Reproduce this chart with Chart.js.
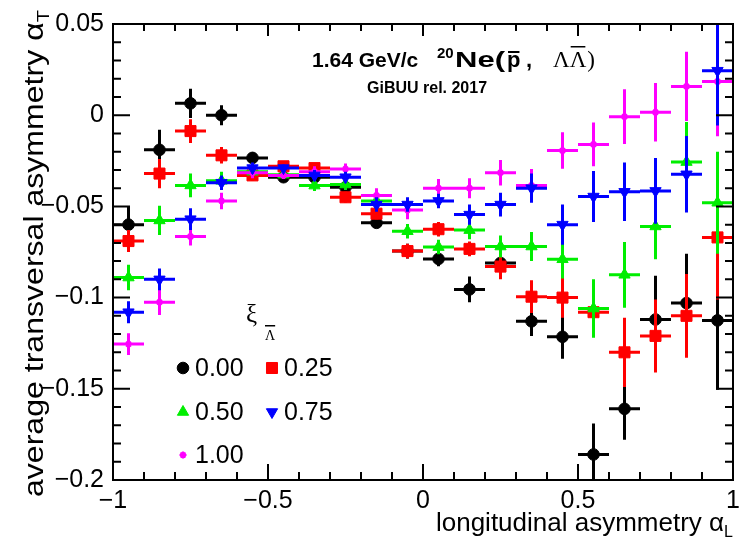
<!DOCTYPE html>
<html>
<head>
<meta charset="utf-8">
<script src="https://cdn.jsdelivr.net/npm/chart.js@4.4.1/dist/chart.umd.min.js"></script>
<style>
  html, body { margin: 0; padding: 0; background: #fff; }
  #c { display: block; }
</style>
</head>
<body>
<canvas id="c" width="749" height="549" style="width:749px;height:549px"></canvas>
<script>
// ---------------- data ----------------
const xCenters = [-0.95, -0.85, -0.75, -0.65, -0.55, -0.45, -0.35, -0.25, -0.15, -0.05,
                   0.05,  0.15,  0.25,  0.35,  0.45,  0.55,  0.65,  0.75,  0.85,  0.95];
const binHalfWidth = 0.05;

const seriesLabels = ['0.00', '0.25', '0.50', '0.75', '1.00'];

const xi000 = [-0.060, -0.019, 0.0065, 0.000, -0.0234, -0.034, -0.034, -0.0395, -0.059, -0.0745,
               -0.0788, -0.0955, -0.081, -0.113, -0.1215, -0.186, -0.161, -0.112, -0.103, -0.1125];
const xi000Err = [0.010, 0.011, 0.008, 0.0055, 0.003, 0.002, 0.002, 0.003, 0.003, 0.004,
                  0.004, 0.007, 0.006, 0.008, 0.012, 0.017, 0.017, 0.024, 0.027, 0.038];

const xi025 = [-0.069, -0.032, -0.0087, -0.022, -0.033, -0.028, -0.029, -0.045, -0.054, -0.0745,
               -0.0625, -0.0733, -0.083, -0.0995, -0.100, -0.108, -0.130, -0.121, -0.110, -0.067];
const xi025Err = [0.006, 0.008, 0.0065, 0.0045, 0.003, 0.002, 0.002, 0.003, 0.003, 0.004,
                  0.004, 0.004, 0.007, 0.009, 0.011, 0.011, 0.019, 0.020, 0.023, 0.034];

const xi050 = [-0.089, -0.0577, -0.0385, -0.036, -0.031, -0.0326, -0.0386, -0.038, -0.047, -0.0636,
               -0.0723, -0.063, -0.072, -0.072, -0.079, -0.106, -0.0875, -0.061, -0.0257, -0.048];
const xi050Err = [0.007, 0.008, 0.0065, 0.005, 0.003, 0.002, 0.003, 0.003, 0.004, 0.004,
                  0.004, 0.005, 0.006, 0.008, 0.0105, 0.016, 0.018, 0.018, 0.022, 0.028];

const xi075 = [-0.108, -0.090, -0.057, -0.037, -0.029, -0.029, -0.033, -0.034, -0.049, -0.049,
               -0.047, -0.0545, -0.049, -0.040, -0.060, -0.0446, -0.042, -0.0415, -0.0324, 0.0244];
const xi075Err = [0.006, 0.006, 0.006, 0.004, 0.003, 0.002, 0.003, 0.003, 0.004, 0.004,
                  0.004, 0.0055, 0.0065, 0.008, 0.011, 0.014, 0.016, 0.018, 0.021, 0.030];

const xi100 = [-0.1255, -0.1025, -0.0665, -0.047, -0.0315, -0.033, -0.031, -0.0295, -0.044, -0.052,
               -0.040, -0.040, -0.0315, -0.0385, -0.0194, -0.016, -0.0008, 0.0016, 0.0158, 0.0185];
const xi100Err = [0.006, 0.007, 0.005, 0.0045, 0.003, 0.002, 0.003, 0.003, 0.004, 0.005,
                  0.005, 0.0055, 0.007, 0.009, 0.010, 0.012, 0.015, 0.016, 0.019, 0.030];

const xTickValues = [-1, -0.5, 0, 0.5, 1];
const xTickLabels = ['\u22121', '\u22120.5', '0', '0.5', '1'];
const yTickValues = [-0.2, -0.15, -0.1, -0.05, 0, 0.05];
const yTickLabels = ['\u22120.2', '\u22120.15', '\u22120.1', '\u22120.05', '0', '0.05'];

// ---------------- styles ----------------
const styles = [
  { color: '#000000', pointStyle: 'circle',   radius: 5.8, rotation: 0,   order: 5 },
  { color: '#ff0000', pointStyle: 'rect',     radius: 7.8, rotation: 0,   order: 4 },
  { color: '#00ee00', pointStyle: 'triangle', radius: 6.5, rotation: 0,   order: 3 },
  { color: '#0000ff', pointStyle: 'triangle', radius: 6.5, rotation: 180, order: 1 },
  { color: '#ff00ff', pointStyle: 'star',     radius: 3.5, rotation: 0,   order: 2 }
];
const allVals = [xi000, xi025, xi050, xi075, xi100];
const allErrs = [xi000Err, xi025Err, xi050Err, xi075Err, xi100Err];

const datasets = allVals.map((vals, k) => ({
  label: seriesLabels[k],
  data: xCenters.map((x, i) => ({ x: x, y: vals[i] })),
  errs: allErrs[k],
  backgroundColor: styles[k].color,
  borderColor: styles[k].color,
  pointStyle: styles[k].pointStyle,
  pointRadius: styles[k].radius,
  pointRotation: styles[k].rotation,
  pointBorderWidth: styles[k].pointStyle === 'star' ? 2 : 1,
  pointHoverRadius: styles[k].radius,
  order: styles[k].order,
  showLine: false
}));

const FONT = '"Liberation Sans", Arial, Helvetica, sans-serif';
const SERIF = '"Liberation Serif", "DejaVu Serif", serif';

// ---------------- plugins ----------------
const whiteBg = {
  id: 'whiteBg',
  beforeDraw(chart) {
    const ctx = chart.ctx;
    ctx.save();
    ctx.fillStyle = '#fff';
    ctx.fillRect(0, 0, chart.width, chart.height);
    ctx.restore();
  }
};

const errorBars = {
  id: 'errorBars',
  beforeDatasetDraw(chart, args) {
    const ds = chart.data.datasets[args.index];
    const { ctx, chartArea: a } = chart;
    const xs = chart.scales.x, ys = chart.scales.y;
    ctx.save();
    ctx.beginPath();
    ctx.rect(a.left, a.top, a.right - a.left, a.bottom - a.top);
    ctx.clip();
    ctx.strokeStyle = ds.borderColor;
    ctx.lineWidth = 3;
    ctx.lineCap = 'butt';
    ds.data.forEach((p, i) => {
      const e = ds.errs[i];
      const px = xs.getPixelForValue(p.x), py = ys.getPixelForValue(p.y);
      const x0 = xs.getPixelForValue(p.x - binHalfWidth), x1 = xs.getPixelForValue(p.x + binHalfWidth);
      const y0 = ys.getPixelForValue(p.y - e), y1 = ys.getPixelForValue(p.y + e);
      ctx.beginPath();
      ctx.moveTo(x0, py); ctx.lineTo(x1, py);
      ctx.moveTo(px, y0); ctx.lineTo(px, y1);
      ctx.stroke();
    });
    ctx.restore();
  }
};

function drawMarker(ctx, st, x, y) {
  ctx.save();
  ctx.fillStyle = st.color;
  ctx.strokeStyle = st.color;
  ctx.lineWidth = st.pointStyle === 'star' ? 2 : 1;
  Chart.helpers.drawPoint(ctx, {
    pointStyle: st.pointStyle, radius: st.radius, rotation: st.rotation,
    borderWidth: st.pointStyle === 'star' ? 2 : 1
  }, x, y);
  ctx.restore();
}

const frameAndText = {
  id: 'frameAndText',
  afterDraw(chart) {
    const { ctx, chartArea: a } = chart;
    const xs = chart.scales.x, ys = chart.scales.y;
    ctx.save();
    // frame
    ctx.strokeStyle = '#000';
    ctx.lineWidth = 2;
    ctx.strokeRect(a.left, a.top, a.right - a.left, a.bottom - a.top);
    // x ticks (major every 0.5, minor every 0.1)
    ctx.beginPath();
    for (let k = -10; k <= 10; k++) {
      const v = k / 10;
      const px = xs.getPixelForValue(v);
      const major = (k % 5 === 0);
      const lb = major ? 16 : 8, lt = major ? 12 : 7;
      ctx.moveTo(px, a.bottom); ctx.lineTo(px, a.bottom - lb);
      ctx.moveTo(px, a.top); ctx.lineTo(px, a.top + lt);
    }
    // y ticks (major every 0.05, minor every 0.01)
    for (let k = -20; k <= 5; k++) {
      const v = k / 100;
      const py = ys.getPixelForValue(v);
      const major = (k % 5 === 0);
      const l = major ? 17 : 8;
      ctx.moveTo(a.left, py); ctx.lineTo(a.left + l, py);
      ctx.moveTo(a.right, py); ctx.lineTo(a.right - l, py);
    }
    ctx.stroke();

    ctx.fillStyle = '#000';
    ctx.textAlign = 'left';
    ctx.textBaseline = 'alphabetic';

    // x axis title, right aligned to the frame
    {
      ctx.font = '26px ' + FONT;
      const main = 'longitudinal asymmetry \u03b1';
      const mw = ctx.measureText(main).width;
      ctx.font = '16px ' + FONT;
      const sw = ctx.measureText('L').width;
      const base = 531;
      const x0 = a.right - mw - sw;
      ctx.font = '26px ' + FONT;
      ctx.fillText(main, x0, base);
      ctx.font = '16px ' + FONT;
      ctx.fillText('L', x0 + mw, base + 6);
    }
    // y axis title, rotated, top aligned
    {
      ctx.save();
      ctx.translate(43, 497);
      ctx.rotate(-Math.PI / 2);
      ctx.font = '27px ' + FONT;
      const main = 'average transversal asymmetry \u03b1';
      const mw = ctx.measureText(main).width;
      ctx.font = '17px ' + FONT;
      const sw = ctx.measureText('T').width;
      const s = 487 / (mw + sw);
      ctx.scale(s, 1);
      ctx.font = '27px ' + FONT;
      ctx.fillText(main, 0, 0);
      ctx.font = '17px ' + FONT;
      ctx.fillText('T', mw, 6);
      ctx.restore();
    }

    // title
    {
      const base = 67;
      ctx.font = 'bold 21px ' + FONT;
      ctx.fillText('1.64 GeV/c', 312, base);
      ctx.font = 'bold 15px ' + FONT;
      ctx.fillText('20', 437, base - 9);
      ctx.font = 'bold 22px ' + FONT;
      const neW = ctx.measureText('Ne(').width;
      ctx.save();
      ctx.translate(455, base);
      ctx.scale(50 / neW, 1);
      ctx.fillText('Ne(', 0, 0);
      ctx.restore();
      const pw = ctx.measureText('p').width;
      ctx.fillText('p', 507, base);
      ctx.fillRect(508, base - 16, pw - 2, 2);
      ctx.fillText(',', 526, base);
      ctx.font = '23px ' + SERIF;
      const lw = ctx.measureText('\u039b').width;
      ctx.fillText('\u039b', 553, base);
      ctx.fillText('\u039b', 553 + lw, base);
      ctx.fillRect(554 + lw, base - 21, lw - 2, 1.5);
      ctx.fillText(')', 554 + 2 * lw, base);

      ctx.font = 'bold 16px ' + FONT;
      ctx.fillText('GiBUU rel. 2017', 367, 93);
    }

    // legend
    {
      ctx.font = '25px ' + SERIF;
      ctx.fillText('\u03be', 246, 322);
      ctx.font = '14px ' + SERIF;
      ctx.fillText('\u039b', 265, 340);
      const lw = ctx.measureText('\u039b').width;
      ctx.fillRect(265, 325, lw, 1.5);

      const pos = [[183, 368], [272, 368], [183, 412], [272, 412], [183, 455]];
      ctx.font = '25px ' + FONT;
      ctx.textBaseline = 'middle';
      pos.forEach((p, k) => {
        drawMarker(ctx, styles[k], p[0], p[1]);
        ctx.fillStyle = '#000';
        ctx.fillText(seriesLabels[k], p[0] + 12, p[1] + 1);
      });
    }
    ctx.restore();
  }
};

// ---------------- chart ----------------
new Chart(document.getElementById('c'), {
  type: 'scatter',
  data: { datasets: datasets },
  options: {
    responsive: false,
    devicePixelRatio: 1,
    animation: false,
    events: [],
    layout: { padding: { left: 0, right: 16, top: 20, bottom: 0 } },
    plugins: { legend: { display: false }, tooltip: { enabled: false }, title: { display: false } },
    scales: {
      x: {
        type: 'linear', min: -1, max: 1,
        afterBuildTicks: s => { s.ticks = xTickValues.map(v => ({ value: v })); },
        afterFit: s => { s.height = 69; },
        grid: { display: false, drawTicks: false },
        border: { display: false },
        ticks: {
          padding: 6, color: '#000', maxRotation: 0, autoSkip: false,
          font: { family: FONT, size: 25 },
          callback: (v, i) => xTickLabels[i]
        }
      },
      y: {
        type: 'linear', min: -0.2, max: 0.05,
        afterBuildTicks: s => { s.ticks = yTickValues.map(v => ({ value: v })); },
        afterFit: s => { s.width = 113; },
        grid: { display: false, drawTicks: false },
        border: { display: false },
        ticks: {
          padding: 9, color: '#000', autoSkip: false,
          font: { family: FONT, size: 25 },
          callback: (v, i) => yTickLabels[i]
        }
      }
    }
  },
  plugins: [whiteBg, errorBars, frameAndText]
});
</script>
</body>
</html>
